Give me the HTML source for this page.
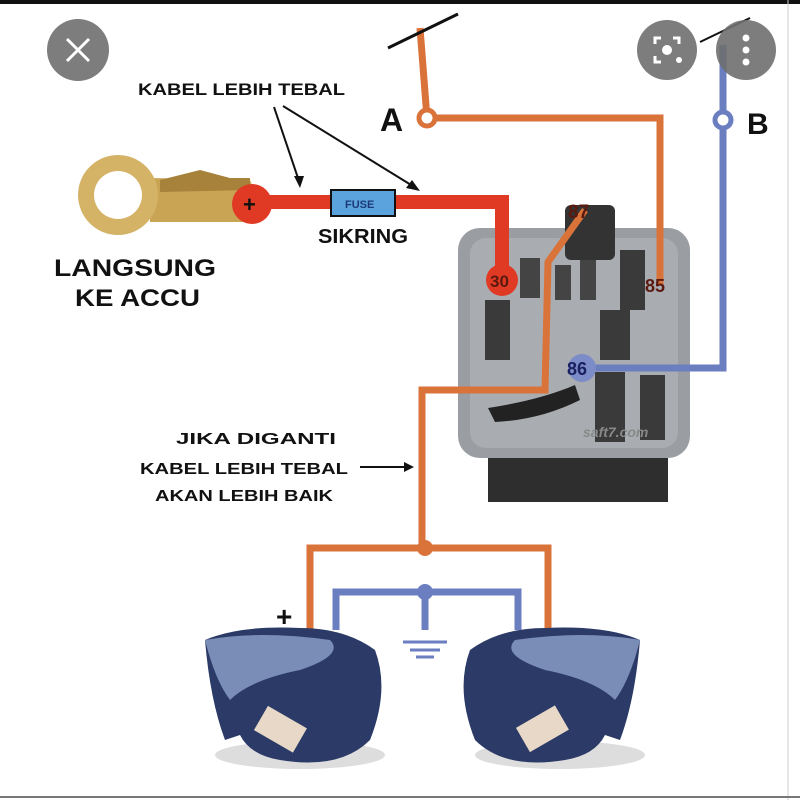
<!DOCTYPE html>
<html><head><style>
html,body{margin:0;padding:0;background:#fff;}
svg{display:block;}
text{font-family:"Liberation Sans",Arial,sans-serif;font-weight:bold;}
</style></head><body>
<svg width="800" height="800" viewBox="0 0 800 800" xmlns="http://www.w3.org/2000/svg">
<rect width="800" height="800" fill="#fff"/>
<rect x="0" y="0" width="800" height="4" fill="#111"/>
<line x1="788" y1="0" x2="788" y2="800" stroke="#ccc" stroke-width="1"/>
<line x1="0" y1="797" x2="800" y2="797" stroke="#777" stroke-width="2"/>

<!-- relay -->
<rect x="488" y="440" width="180" height="62" fill="#2e2e2e"/>
<rect x="458" y="228" width="232" height="230" rx="22" fill="#9a9ea3"/>
<rect x="470" y="238" width="208" height="210" rx="16" fill="#a9adb1"/>
<rect x="565" y="205" width="50" height="55" rx="6" fill="#333"/>
<rect x="520" y="258" width="20" height="40" fill="#444"/>
<rect x="555" y="265" width="16" height="35" fill="#444"/>
<rect x="580" y="260" width="16" height="40" fill="#444"/>
<rect x="620" y="250" width="25" height="60" fill="#3a3a3a"/>
<rect x="485" y="300" width="25" height="60" fill="#3a3a3a"/>
<rect x="600" y="310" width="30" height="50" fill="#3a3a3a"/>
<rect x="595" y="372" width="30" height="70" fill="#3a3a3a"/>
<rect x="640" y="375" width="25" height="65" fill="#3a3a3a"/>
<path d="M488 408 Q540 400 575 385 L580 400 Q540 420 495 422 Z" fill="#222"/>
<text x="583" y="437" font-size="14" fill="#888" font-style="italic">saft7.com</text>

<!-- wires -->
<g fill="none" stroke-linejoin="miter">
<polyline points="420,28 427,118 660,118 660,285" stroke="#d9733a" stroke-width="7"/>
<polyline points="585,210 548,262 545,390 422,390 422,548" stroke="#d9733a" stroke-width="7"/>
<polyline points="310,630 310,548 548,548 548,630" stroke="#d9733a" stroke-width="7"/>
<polyline points="723,45 723,368 592,368" stroke="#6b7ec0" stroke-width="7"/>
<polyline points="336,630 336,592 518,592 518,630" stroke="#6b7ec0" stroke-width="7"/>
<line x1="425" y1="592" x2="425" y2="630" stroke="#6b7ec0" stroke-width="7"/>
<polyline points="250,202 502,202 502,280" stroke="#e03a25" stroke-width="14"/>
</g>
<line x1="388" y1="48" x2="458" y2="14" stroke="#111" stroke-width="3"/>
<line x1="700" y1="42" x2="750" y2="18" stroke="#111" stroke-width="2"/>
<circle cx="427" cy="118" r="8" fill="#fff" stroke="#d9733a" stroke-width="5"/>
<circle cx="723" cy="120" r="8" fill="#fff" stroke="#6b7ec0" stroke-width="5"/>
<circle cx="425" cy="548" r="8" fill="#d9733a"/>
<circle cx="425" cy="592" r="8" fill="#6b7ec0"/>
<g stroke="#6b7ec0" stroke-width="3"><line x1="403" y1="642" x2="447" y2="642"/><line x1="410" y1="650" x2="440" y2="650"/><line x1="416" y1="657" x2="434" y2="657"/></g>

<!-- pins labels -->
<circle cx="502" cy="280" r="16" fill="#e03a25"/>
<text x="490" y="287" font-size="17" fill="#5a1a10">30</text>
<text x="568" y="218" font-size="19" fill="#5a1a10">87</text>
<text x="645" y="292" font-size="18" fill="#5a1a10">85</text>
<circle cx="582" cy="368" r="14" fill="#7c8cc8"/>
<text x="567" y="375" font-size="18" fill="#1b2060">86</text>

<!-- key -->
<path d="M150 178 L250 180 L258 200 L250 222 L150 222 Z" fill="#c9a455"/>
<path d="M160 180 L200 170 L230 178 L250 178 L250 190 L160 192 Z" fill="#a6823a"/>
<circle cx="118" cy="195" r="40" fill="#d4b367"/>
<circle cx="118" cy="195" r="24" fill="#fff"/>
<circle cx="252" cy="204" r="20" fill="#e03a25"/>
<text x="243" y="212" font-size="22" fill="#111">+</text>

<!-- fuse -->
<rect x="331" y="190" width="64" height="26" fill="#5aa3dc" stroke="#111" stroke-width="2"/>
<text x="345" y="208" font-size="11" fill="#1c3a7a">FUSE</text>
<text x="318" y="243" font-size="20" fill="#111" textLength="90" lengthAdjust="spacingAndGlyphs">SIKRING</text>

<text x="138" y="95" font-size="17" fill="#111" textLength="207" lengthAdjust="spacingAndGlyphs">KABEL LEBIH TEBAL</text>
<g stroke="#111" stroke-width="2"><line x1="274" y1="107" x2="300" y2="184"/><line x1="283" y1="106" x2="416" y2="188"/></g>
<polygon points="300,188 294,176 304,176" fill="#111"/>
<polygon points="420,191 406,188 412,180" fill="#111"/>

<text x="54" y="276" font-size="24" fill="#111" textLength="162" lengthAdjust="spacingAndGlyphs">LANGSUNG</text>
<text x="75" y="306" font-size="24" fill="#111" textLength="125" lengthAdjust="spacingAndGlyphs">KE ACCU</text>
<text x="380" y="131" font-size="32" fill="#111">A</text>
<text x="747" y="134" font-size="30" fill="#111">B</text>

<text x="176" y="444" font-size="16" fill="#111" textLength="160" lengthAdjust="spacingAndGlyphs">JIKA DIGANTI</text>
<text x="140" y="474" font-size="16" fill="#111" textLength="208" lengthAdjust="spacingAndGlyphs">KABEL LEBIH TEBAL</text>
<text x="155" y="501" font-size="16" fill="#111" textLength="178" lengthAdjust="spacingAndGlyphs">AKAN LEBIH BAIK</text>
<line x1="360" y1="467" x2="406" y2="467" stroke="#111" stroke-width="2"/>
<polygon points="414,467 404,462 404,472" fill="#111"/>
<text x="276" y="626" font-size="28" fill="#111">+</text>

<!-- horns -->
<g>
<ellipse cx="300" cy="755" rx="85" ry="14" fill="#ddd"/>
<path d="M205 640 Q240 625 300 628 Q345 628 375 650 Q390 690 370 740 Q340 770 280 760 Q250 755 240 735 L225 740 Q210 700 205 640 Z" fill="#2b3a66"/>
<path d="M205 640 Q260 630 330 640 Q345 655 300 670 Q250 680 230 700 Q215 680 205 640 Z" fill="#7a8db6"/>
<rect x="258" y="715" width="45" height="28" fill="#e8d8c8" transform="rotate(30 280 729)"/>
<ellipse cx="560" cy="755" rx="85" ry="14" fill="#ddd"/>
<path d="M640 640 Q605 625 545 628 Q500 628 470 650 Q455 690 475 740 Q505 770 565 760 Q595 755 605 735 L620 740 Q635 700 640 640 Z" fill="#2b3a66"/>
<path d="M640 640 Q585 630 515 640 Q500 655 545 670 Q595 680 615 700 Q630 680 640 640 Z" fill="#7a8db6"/>
<rect x="520" y="715" width="45" height="28" fill="#e8d8c8" transform="rotate(-30 542 729)"/>
</g>

<!-- overlay buttons -->
<circle cx="78" cy="50" r="31" fill="#6f6f6f" opacity="0.9"/>
<g stroke="#fff" stroke-width="3"><line x1="67" y1="39" x2="89" y2="61"/><line x1="89" y1="39" x2="67" y2="61"/></g>
<circle cx="667" cy="50" r="30" fill="#6f6f6f" opacity="0.9"/>
<circle cx="667" cy="50" r="5" fill="#fff"/>
<circle cx="679" cy="60" r="3" fill="#fff"/>
<path d="M655 44 v-6 h6 M673 38 h6 v6 M655 56 v6 h6" fill="none" stroke="#fff" stroke-width="3"/>
<circle cx="746" cy="50" r="30" fill="#6f6f6f" opacity="0.9"/>
<circle cx="746" cy="38" r="3.5" fill="#fff"/><circle cx="746" cy="50" r="3.5" fill="#fff"/><circle cx="746" cy="62" r="3.5" fill="#fff"/>
</svg>
</body></html>
